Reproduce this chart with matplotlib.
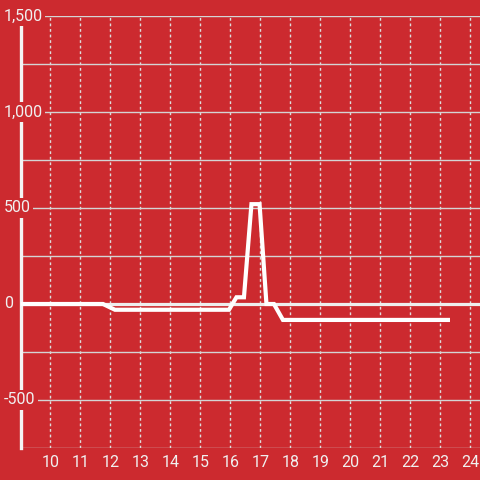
import matplotlib
matplotlib.use("Agg")
import matplotlib.pyplot as plt
from matplotlib.transforms import blended_transform_factory

# Data
hours = [9.0, 11.75, 12.15, 15.95, 16.2, 16.45, 16.7, 16.97, 17.2, 17.45, 17.75, 23.25]
values = [0, 0, -30, -30, 35, 35, 520, 520, 0, 0, -83, -83]
x_ticks = list(range(10, 25))
y_label_ticks = [-500, 0, 500, 1000, 1500]
y_label_text = ["-500", "0", "500", "1,000", "1,500"]

BG = "#cc2a2f"
plt.rcParams['font.family'] = ['Roboto', 'DejaVu Sans']

fig = plt.figure(figsize=(4.8, 4.8), dpi=100, facecolor=BG)
ax = fig.add_axes([20.5 / 480, 32 / 480, 1 - 20.5 / 480, 432 / 480])
ax.set_facecolor(BG)
ax.set_xlim(9, 24.32)
ax.set_ylim(-750, 1500)

# grid
ax.set_yticks(list(range(-750, 1501, 250)))
ax.set_xticks(x_ticks)
ax.yaxis.grid(True, color="#d4d4d4", lw=1, ls="-")
ax.xaxis.grid(True, color="#dddddd", lw=1, ls=(0, (2, 2)))
ax.set_axisbelow(True)
ax.tick_params(axis="y", length=0, labelleft=False)
ax.tick_params(axis="x", length=0, pad=5, labelsize=11.5, labelcolor="#f0f0f0")

for s in ["top", "right", "bottom"]:
    ax.spines[s].set_visible(False)
ax.spines["left"].set_color("#f4f4f4")
ax.spines["left"].set_linewidth(2.4)

# zero line
ax.axhline(0, color="#eeeeee", lw=2.3, zorder=2)

# series
ax.plot(hours, values, color="white", lw=3.0, solid_joinstyle="miter", zorder=3)

# y labels with background boxes
tr = blended_transform_factory(fig.transFigure, ax.transData)
for v, lab in zip(y_label_ticks, y_label_text):
    ax.text(4 / 480, v, lab, transform=tr, ha="left", va="center",
            fontsize=11.5, color="#f0f0f0", clip_on=False, zorder=10,
            bbox=dict(facecolor=BG, edgecolor="none", pad=1.5))

fig.savefig("out.png", dpi=100, facecolor=BG)
